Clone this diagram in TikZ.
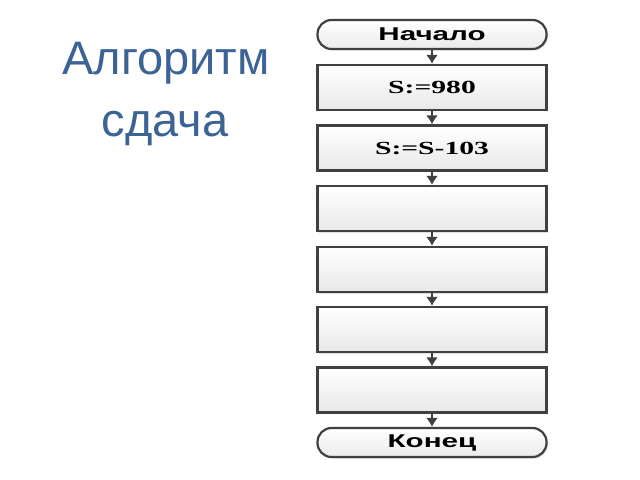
\documentclass[tikz,border=0pt]{standalone}
\usepackage{fontspec}
\setmainfont{Liberation Serif}
\newfontfamily\headfont{Liberation Sans}
\usetikzlibrary{shadows,arrows.meta}
\definecolor{titlecol}{rgb}{0.23,0.39,0.59}
\definecolor{strokecol}{rgb}{0.25,0.25,0.25}
\newcommand{\wide}[1]{\scalebox{1.6}[1]{#1}}
\tikzset{
  termbox/.style={draw=strokecol, line width=2.2bp, rounded corners=14bp,
    minimum width=229bp, minimum height=29bp, inner sep=0bp,
    top color=white, bottom color=black!8,
    drop shadow={shadow xshift=1.5bp, shadow yshift=-1.5bp, opacity=0.25},
    font=\headfont\bfseries\fontsize{18.5bp}{20bp}\selectfont},
  opbox/.style={draw=strokecol, line width=2.2bp,
    minimum width=229bp, minimum height=45bp, inner sep=0bp,
    top color=white, bottom color=black!9,
    drop shadow={shadow xshift=1.5bp, shadow yshift=-1.5bp, opacity=0.25},
    font=\bfseries\fontsize{18.5bp}{20bp}\selectfont},
  titletext/.style={text=titlecol, anchor=base,
    font=\headfont\fontsize{47bp}{52bp}\selectfont},
  flow/.style={->, draw=strokecol, line width=2.6bp}
}
\begin{document}
\begin{tikzpicture}[>={Latex[length=9bp,width=12bp]}, x=1bp, y=-1bp]
  \useasboundingbox (0,0) rectangle (640,480);
%%
  % Title
  \node[titletext] (title) at (166,75) {Алгоритм};
  \node[titletext] (titleb) at (165,137) {сдача};
  % Node: Start
  \node[termbox] (Start) at (432,34.5) {\wide{Начало}};
  % Node: Op1 .. Op6
  \node[opbox] (Op1) at (432,87.5) {\wide{S:=980}};
  \node[opbox] (Op2) at (432,148) {\wide{S:=S-103}};
  \node[opbox] (Op3) at (432,208.5) {};
  \node[opbox] (Op4) at (432,269.5) {};
  \node[opbox] (Op5) at (432,329.5) {};
  \node[opbox] (Op6) at (432,390) {};
  % Node: Finish
  \node[termbox] (Finish) at (432,442.5) {\wide{Конец}};
  % Edges
  \draw[flow] (Start) -- (Op1);
  \draw[flow] (Op1) -- (Op2);
  \draw[flow] (Op2) -- (Op3);
  \draw[flow] (Op3) -- (Op4);
  \draw[flow] (Op4) -- (Op5);
  \draw[flow] (Op5) -- (Op6);
  \draw[flow] (Op6) -- (Finish);
%
\end{tikzpicture}
\end{document}
